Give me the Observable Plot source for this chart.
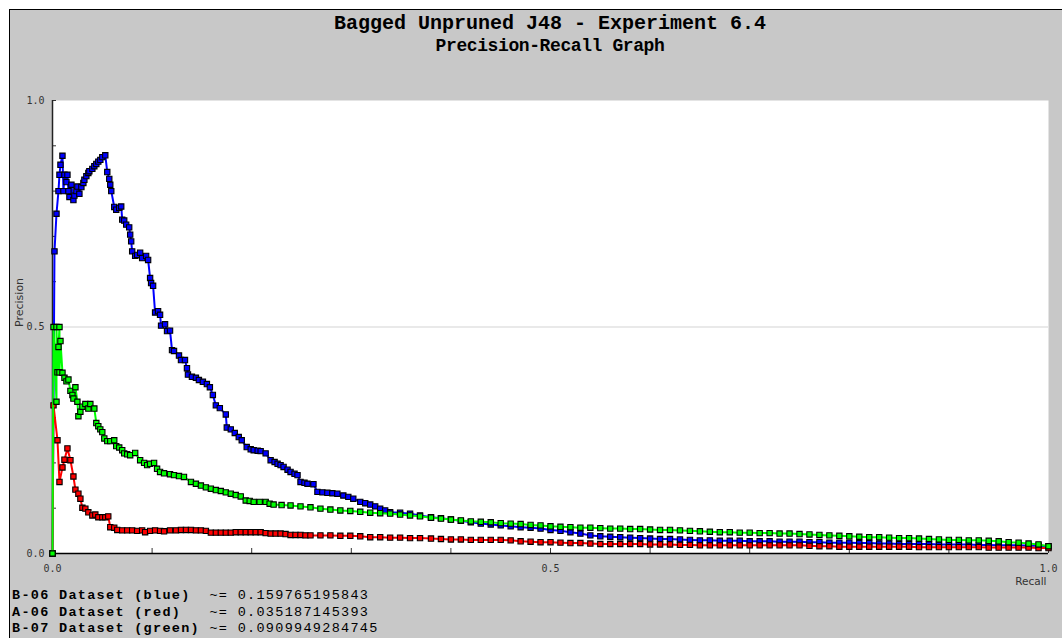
<!DOCTYPE html>
<html><head><meta charset="utf-8">
<script src="https://cdn.jsdelivr.net/npm/d3@7"></script>
<script src="https://cdn.jsdelivr.net/npm/@observablehq/plot@0.6"></script>
<style>
html,body{margin:0;padding:0;background:#fff;}
#page{position:relative;width:1062px;height:638px;overflow:hidden;background:#fff;}
#panel{position:absolute;left:9px;top:9px;width:1052px;height:628px;background:#c8c8c8;border-left:1px solid #000;border-top:1px solid #000;overflow:hidden;}
#title{box-sizing:border-box;height:50px;padding-top:2px;margin-left:42px;width:996px;text-align:center;font-family:"Liberation Mono","DejaVu Sans Mono",monospace;font-weight:bold;color:#000;}
#title .t1{font-size:20px;line-height:23px;}
#title .t2{font-size:18px;line-height:23px;letter-spacing:-0.4px;}
#chart svg{display:block;}
#legend{padding-left:2px;padding-top:0;font-family:"Liberation Mono","DejaVu Sans Mono",monospace;font-size:13.5px;letter-spacing:1.3px;line-height:16.5px;white-space:pre;color:#000;}
#legend b{font-weight:bold;}
</style>
</head><body>
<div id="page"><div id="panel">
<div id="title"><div class="t1">Bagged Unpruned J48 - Experiment 6.4</div><div class="t2">Precision-Recall Graph</div></div>
<div id="chart"></div>
<div id="legend"></div>
</div></div>
<script>
// [recall, precision]
const blue = [[0,0],[0.002,0.667],[0.004,0.75],[0.006,0.80],[0.007,0.836],[0.008,0.858],[0.010,0.878],[0.011,0.80],[0.012,0.836],[0.014,0.82],[0.015,0.836],[0.016,0.80],[0.017,0.787],[0.019,0.814],[0.021,0.78],[0.022,0.79],[0.024,0.80],[0.025,0.81],[0.027,0.794],[0.029,0.809],[0.031,0.818],[0.032,0.825],[0.034,0.833],[0.036,0.84],[0.037,0.844],[0.040,0.849],[0.042,0.855],[0.044,0.86],[0.046,0.865],[0.048,0.869],[0.050,0.875],[0.053,0.879],[0.055,0.842],[0.057,0.827],[0.058,0.814],[0.059,0.80],[0.062,0.765],[0.064,0.759],[0.067,0.763],[0.069,0.766],[0.070,0.737],[0.072,0.735],[0.074,0.726],[0.077,0.72],[0.078,0.704],[0.079,0.689],[0.080,0.667],[0.083,0.657],[0.085,0.659],[0.088,0.664],[0.090,0.652],[0.094,0.657],[0.096,0.648],[0.098,0.608],[0.099,0.597],[0.101,0.591],[0.103,0.532],[0.106,0.535],[0.108,0.527],[0.109,0.503],[0.113,0.506],[0.115,0.491],[0.118,0.492],[0.120,0.449],[0.122,0.447],[0.127,0.437],[0.129,0.427],[0.133,0.427],[0.135,0.409],[0.136,0.395],[0.140,0.39],[0.144,0.388],[0.147,0.383],[0.151,0.379],[0.155,0.374],[0.158,0.367],[0.161,0.35],[0.164,0.327],[0.168,0.321],[0.174,0.307],[0.175,0.278],[0.179,0.274],[0.183,0.266],[0.187,0.257],[0.190,0.25],[0.195,0.235],[0.199,0.230],[0.202,0.228],[0.206,0.227],[0.209,0.226],[0.214,0.221],[0.219,0.206],[0.223,0.202],[0.226,0.198],[0.229,0.195],[0.232,0.191],[0.236,0.185],[0.239,0.18],[0.243,0.176],[0.246,0.173],[0.249,0.158],[0.253,0.156],[0.256,0.154],[0.262,0.153],[0.266,0.136],[0.271,0.135],[0.276,0.134],[0.281,0.133],[0.286,0.132],[0.292,0.128],[0.297,0.125],[0.302,0.121],[0.309,0.114],[0.314,0.111],[0.319,0.108],[0.324,0.104],[0.329,0.099],[0.334,0.095],[0.339,0.091],[0.349,0.090],[0.359,0.088],[0.369,0.084],[0.380,0.080],[0.390,0.078],[0.40,0.075],[0.41,0.072],[0.42,0.069],[0.43,0.066],[0.44,0.064],[0.45,0.062],[0.46,0.060],[0.47,0.058],[0.48,0.057],[0.49,0.055],[0.50,0.052],[0.51,0.050],[0.52,0.047],[0.53,0.044],[0.54,0.040],[0.55,0.038],[0.56,0.037],[0.57,0.036],[0.58,0.035],[0.59,0.034],[0.60,0.033],[0.61,0.032],[0.62,0.032],[0.63,0.031],[0.64,0.030],[0.65,0.029],[0.66,0.029],[0.67,0.028],[0.68,0.028],[0.69,0.028],[0.70,0.027],[0.71,0.027],[0.72,0.027],[0.73,0.026],[0.74,0.026],[0.75,0.026],[0.76,0.025],[0.77,0.025],[0.78,0.024],[0.79,0.024],[0.80,0.024],[0.81,0.023],[0.82,0.023],[0.83,0.022],[0.84,0.022],[0.85,0.021],[0.86,0.021],[0.87,0.021],[0.88,0.021],[0.89,0.020],[0.90,0.020],[0.91,0.020],[0.92,0.020],[0.93,0.019],[0.94,0.019],[0.95,0.018],[0.96,0.018],[0.97,0.018],[0.98,0.017],[0.99,0.017],[1.0,0.016]];

const red = [[0,0],[0.001,0.327],[0.005,0.25],[0.007,0.158],[0.010,0.19],[0.012,0.207],[0.015,0.232],[0.018,0.206],[0.021,0.17],[0.023,0.141],[0.026,0.132],[0.028,0.121],[0.030,0.101],[0.033,0.099],[0.036,0.091],[0.040,0.084],[0.043,0.086],[0.046,0.080],[0.050,0.080],[0.053,0.080],[0.056,0.082],[0.058,0.058],[0.062,0.057],[0.065,0.052],[0.070,0.051],[0.075,0.051],[0.080,0.051],[0.085,0.050],[0.090,0.051],[0.093,0.047],[0.098,0.050],[0.103,0.051],[0.108,0.050],[0.112,0.049],[0.118,0.051],[0.124,0.051],[0.129,0.052],[0.134,0.052],[0.139,0.052],[0.144,0.051],[0.149,0.051],[0.154,0.050],[0.159,0.046],[0.164,0.046],[0.169,0.046],[0.174,0.046],[0.179,0.046],[0.184,0.047],[0.189,0.047],[0.194,0.047],[0.199,0.047],[0.204,0.047],[0.209,0.047],[0.214,0.045],[0.219,0.044],[0.224,0.044],[0.229,0.044],[0.234,0.043],[0.239,0.041],[0.244,0.041],[0.249,0.041],[0.254,0.040],[0.259,0.040],[0.269,0.040],[0.279,0.040],[0.289,0.039],[0.299,0.039],[0.309,0.038],[0.319,0.036],[0.329,0.036],[0.339,0.035],[0.349,0.035],[0.359,0.034],[0.369,0.034],[0.380,0.033],[0.39,0.032],[0.40,0.031],[0.41,0.031],[0.42,0.030],[0.43,0.030],[0.44,0.030],[0.45,0.030],[0.46,0.029],[0.47,0.027],[0.48,0.026],[0.49,0.025],[0.50,0.025],[0.51,0.024],[0.52,0.023],[0.53,0.023],[0.54,0.022],[0.55,0.021],[0.56,0.021],[0.57,0.021],[0.58,0.021],[0.59,0.021],[0.60,0.020],[0.61,0.020],[0.62,0.020],[0.63,0.019],[0.64,0.019],[0.65,0.018],[0.66,0.018],[0.67,0.018],[0.68,0.018],[0.69,0.018],[0.70,0.018],[0.71,0.018],[0.72,0.018],[0.73,0.018],[0.74,0.018],[0.75,0.018],[0.76,0.017],[0.77,0.016],[0.78,0.016],[0.79,0.015],[0.80,0.015],[0.81,0.015],[0.82,0.015],[0.83,0.015],[0.84,0.015],[0.85,0.015],[0.86,0.015],[0.87,0.014],[0.88,0.014],[0.89,0.014],[0.90,0.014],[0.91,0.014],[0.92,0.014],[0.93,0.014],[0.94,0.013],[0.95,0.013],[0.96,0.013],[0.97,0.013],[0.98,0.013],[0.99,0.012],[1.0,0.012]];

const green = [[0,0],[0.001,0.50],[0.004,0.335],[0.004,0.50],[0.005,0.40],[0.006,0.456],[0.007,0.50],[0.007,0.40],[0.008,0.469],[0.010,0.399],[0.012,0.388],[0.014,0.38],[0.016,0.384],[0.018,0.359],[0.020,0.35],[0.021,0.342],[0.023,0.367],[0.025,0.335],[0.026,0.303],[0.028,0.313],[0.030,0.324],[0.033,0.33],[0.036,0.32],[0.038,0.33],[0.042,0.32],[0.044,0.288],[0.046,0.281],[0.048,0.274],[0.050,0.268],[0.052,0.254],[0.055,0.248],[0.058,0.248],[0.062,0.25],[0.064,0.237],[0.067,0.234],[0.070,0.228],[0.072,0.221],[0.075,0.219],[0.078,0.217],[0.083,0.222],[0.088,0.206],[0.092,0.200],[0.095,0.195],[0.098,0.198],[0.102,0.20],[0.105,0.187],[0.108,0.180],[0.112,0.177],[0.118,0.175],[0.122,0.173],[0.127,0.171],[0.132,0.169],[0.139,0.158],[0.144,0.154],[0.149,0.15],[0.154,0.146],[0.159,0.143],[0.164,0.140],[0.169,0.138],[0.174,0.135],[0.179,0.132],[0.184,0.129],[0.189,0.126],[0.194,0.117],[0.198,0.116],[0.202,0.114],[0.208,0.114],[0.214,0.114],[0.218,0.110],[0.222,0.108],[0.230,0.107],[0.239,0.106],[0.249,0.104],[0.259,0.102],[0.269,0.099],[0.279,0.097],[0.289,0.095],[0.299,0.094],[0.309,0.092],[0.319,0.090],[0.329,0.089],[0.339,0.088],[0.349,0.086],[0.359,0.084],[0.369,0.082],[0.380,0.079],[0.39,0.077],[0.40,0.075],[0.41,0.073],[0.42,0.071],[0.43,0.070],[0.44,0.069],[0.45,0.067],[0.46,0.066],[0.47,0.065],[0.48,0.063],[0.49,0.062],[0.50,0.060],[0.51,0.059],[0.52,0.058],[0.53,0.057],[0.54,0.057],[0.55,0.056],[0.56,0.055],[0.57,0.055],[0.58,0.054],[0.59,0.054],[0.60,0.053],[0.61,0.052],[0.62,0.052],[0.63,0.051],[0.64,0.050],[0.65,0.049],[0.66,0.048],[0.67,0.047],[0.68,0.047],[0.69,0.046],[0.70,0.046],[0.71,0.045],[0.72,0.045],[0.73,0.044],[0.74,0.044],[0.75,0.043],[0.76,0.042],[0.77,0.041],[0.78,0.040],[0.79,0.039],[0.80,0.038],[0.81,0.037],[0.82,0.036],[0.83,0.036],[0.84,0.035],[0.85,0.034],[0.86,0.034],[0.87,0.033],[0.88,0.032],[0.89,0.031],[0.90,0.030],[0.91,0.030],[0.92,0.029],[0.93,0.029],[0.94,0.028],[0.95,0.027],[0.96,0.025],[0.97,0.024],[0.98,0.022],[0.99,0.020],[1.0,0.016]];

const tickValues = [0,0.1,0.2,0.3,0.4,0.5,0.6,0.7,0.8,0.9,1.0];
const labelValues = [0,0.5,1.0];
const gridValues = [0.5];
const seriesNames = ["B-06 Dataset (blue)", "A-06 Dataset (red)", "B-07 Dataset (green)"];
const seriesScores = ["0.159765195843", "0.035187145393", "0.0909949284745"];
const seriesColors = ["#0000ff", "#ff0000", "#00ff00"];
const seriesData = [blue, red, green];

const fmt = d3.format(".1f");
const tickFont = {fontFamily: "'DejaVu Sans Mono', monospace", fontSize: 10, fill: "#333"};

const seriesMarks = seriesData.flatMap((data, i) => [
  Plot.line(data, {x: d => d[0], y: d => d[1], stroke: seriesColors[i], strokeWidth: 2}),
  Plot.dot(data, {x: d => d[0], y: d => d[1], symbol: "square", r: 3, fill: seriesColors[i], stroke: "#000", strokeWidth: 1.1})
]);

const chart = Plot.plot({
  width: 1052,
  height: 528,
  marginLeft: 42,
  marginRight: 14,
  marginTop: 40,
  marginBottom: 35,
  style: {background: "transparent", overflow: "visible"},
  x: {domain: [0, 1]},
  y: {domain: [0, 1]},
  marks: [
    Plot.frame({fill: "white", stroke: null}),
    Plot.ruleY(gridValues, {stroke: "#e2e2e2", strokeWidth: 1.5}),
    Plot.axisY(tickValues, {tickSize: 4, dx: 4, tickFormat: () => "", label: null, stroke: "#333"}),
    Plot.axisX(tickValues, {tickSize: 5, dy: -5, tickFormat: () => "", label: null, stroke: "#333"}),
    Plot.axisY(labelValues, {tickSize: 0, tickPadding: 8, tickFormat: fmt, label: null, ...tickFont}),
    Plot.axisX(labelValues, {tickSize: 0, tickPadding: 11, tickFormat: fmt, label: null, ...tickFont}),
    Plot.ruleX([0], {stroke: "#222", strokeWidth: 1.5}),
    Plot.ruleY([0], {stroke: "#000", strokeWidth: 1.5}),
    ...seriesMarks,
    Plot.text(["Precision"], {frameAnchor: "left", rotate: -90, dx: -33, fontFamily: "'DejaVu Sans', sans-serif", fontSize: 11, fill: "#333"}),
    Plot.text(["Recall"], {frameAnchor: "bottom-right", textAnchor: "end", dx: -2, dy: 31, fontFamily: "'DejaVu Sans', sans-serif", fontSize: 10.5, fill: "#333"})
  ]
});
document.getElementById("chart").appendChild(chart);

const legend = document.getElementById("legend");
const padLen = d3.max(seriesNames, s => s.length);
legend.innerHTML = seriesNames.map((n, i) =>
  `<b>${n.padEnd(padLen, " ")}</b> ~= ${seriesScores[i]}`).join("\n");
</script>
</body></html>
